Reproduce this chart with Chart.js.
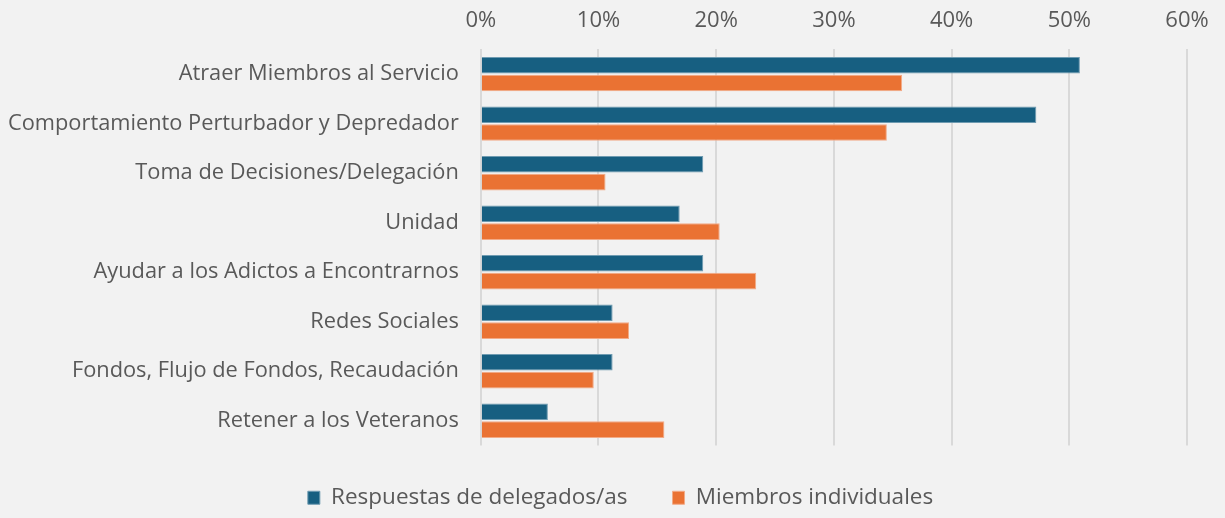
<!DOCTYPE html>
<html>
<head>
<meta charset="utf-8">
<script src="https://cdn.jsdelivr.net/npm/chart.js@4"></script>
<style>
    html, body { margin: 0; padding: 0; background: #f2f2f2; }
    #wrap { width: 1225px; height: 518px; }
</style>
</head>
<body>
<div id="wrap"><canvas id="myChart"></canvas></div>
<script>
// Categories and values (percent).
const categories = [
    'Atraer Miembros al Servicio',
    'Comportamiento Perturbador y Depredador',
    'Toma de Decisiones/Delegación',
    'Unidad',
    'Ayudar a los Adictos a Encontrarnos',
    'Redes Sociales',
    'Fondos, Flujo de Fondos, Recaudación',
    'Retener a los Veteranos'
];
const delegados = [50.9, 47.2, 18.9, 16.9, 18.9, 11.2, 11.2, 5.7];
const individuales = [35.8, 34.5, 10.6, 20.3, 23.4, 12.6, 9.6, 15.6];
const seriesNames = ['Respuestas de delegados/as', 'Miembros individuales'];
const tickValues = [0, 10, 20, 30, 40, 50, 60];

const textColor = '#595959';
const fontFamily = "'Open Sans', sans-serif";

// Nudge the legend so it sits centred on the page like the original.
const legendShift = {
    id: 'legendShift',
    afterLayout(chart) {
        const lg = chart.legend;
        lg.left += 34;
        lg.right += 34;
        lg.top -= 4;
        lg.bottom -= 4;
    }
};

const ctx = document.getElementById('myChart').getContext('2d');
const chart = new Chart(ctx, {
    type: 'bar',
    data: {
        labels: categories,
        datasets: [{
            label: seriesNames[0],
            data: delegados,
            backgroundColor: '#175f81',
            borderColor: '#6f9bb1',
            borderWidth: 1
        }, {
            label: seriesNames[1],
            data: individuales,
            backgroundColor: '#ea7233',
            borderColor: '#f2ab88',
            borderWidth: 1
        }]
    },
    plugins: [legendShift],
    options: {
        indexAxis: 'y',
        responsive: true,
        maintainAspectRatio: false,
        animation: false,
        layout: {
            padding: { left: -14, right: 38, top: -7, bottom: -5 }
        },
        datasets: {
            bar: { categoryPercentage: 0.72, barPercentage: 0.93 }
        },
        plugins: {
            tooltip: { enabled: false },
            legend: {
                position: 'bottom',
                labels: {
                    boxWidth: 12,
                    boxHeight: 13,
                    padding: 45,
                    color: textColor,
                    font: { family: fontFamily, size: 22.5 }
                }
            }
        },
        scales: {
            x: {
                position: 'top',
                min: 0,
                max: 60,
                afterBuildTicks: (axis) => {
                    axis.ticks = tickValues.map(v => ({ value: v }));
                },
                border: { display: false },
                grid: { color: '#d9d9d9', lineWidth: 2, drawTicks: false },
                ticks: {
                    padding: 15,
                    color: textColor,
                    font: { family: fontFamily, size: 22 },
                    callback: (v) => v + '%'
                }
            },
            y: {
                border: { display: false },
                grid: { display: false, drawTicks: false },
                ticks: {
                    padding: 22,
                    color: textColor,
                    font: { family: fontFamily, size: 21.8 }
                }
            }
        }
    }
});
</script>
</body>
</html>
